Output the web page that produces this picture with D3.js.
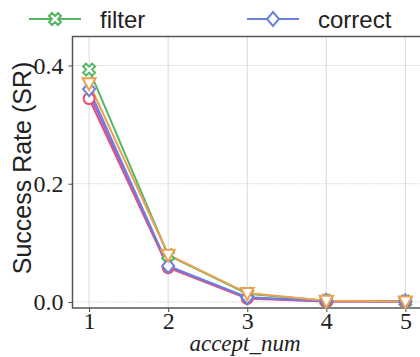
<!DOCTYPE html>
<html>
<head>
<meta charset="utf-8">
<script src="https://cdn.jsdelivr.net/npm/d3@7"></script>
<style>
  body { margin: 0; background: #fff; }
  svg { display: block; }
</style>
</head>
<body>
<div id="chart"></div>
<script>
// data
const acceptNum = [1, 2, 3, 4, 5];
const filterSR  = [0.393, 0.079, 0.014, 0.002, 0.001];
const orangeSR  = [0.370, 0.080, 0.015, 0.002, 0.001];
const correctSR = [0.360, 0.061, 0.008, 0.002, 0.001];
const purpleSR  = [0.352, 0.060, 0.007, 0.001, 0.001];
const redSR     = [0.344, 0.058, 0.006, 0.001, 0.001];
const yTicks = [0.0, 0.2, 0.4];

// listed in drawing order (last on top)
const series = [
    { name: 'filter',  values: filterSR,  color: '#55b764', marker: 'x' },
    { name: 'red',     values: redSR,     color: '#e6506e', marker: 'circle' },
    { name: 'purple',  values: purpleSR,  color: '#a861c8', marker: 'none' },
    { name: 'correct', values: correctSR, color: '#6a7fde', marker: 'diamond' },
    { name: 'orange',  values: orangeSR,  color: '#eea052', marker: 'tri' }
];

const width = 420, height = 357;
const serif = '"Liberation Serif", "DejaVu Serif", serif';
const sans = '"Liberation Sans", Arial, sans-serif';

const svg = d3.select('#chart').append('svg')
    .attr('width', width)
    .attr('height', height);

// plot box
const box = { left: 72.5, top: 36.5, right: 422, bottom: 308 };

const x = d3.scaleLinear().domain([0.79, 5.21]).range([box.left, box.right]);
const y = d3.scaleLinear().domain([-0.0102, 0.449]).range([box.bottom, box.top]);

// grid
const grid = svg.append('g');
grid.selectAll('.vg').data(acceptNum).enter().append('line')
    .attr('x1', d => x(d)).attr('x2', d => x(d))
    .attr('y1', box.top).attr('y2', box.bottom)
    .attr('stroke', '#dadada').attr('stroke-width', 1);
grid.selectAll('.hg').data(yTicks).enter().append('line')
    .attr('x1', box.left).attr('x2', box.right)
    .attr('y1', d => y(d)).attr('y2', d => y(d))
    .attr('stroke', '#dadada').attr('stroke-width', 1)
    .attr('stroke-dasharray', '2,1');

// axes
const xAxis = d3.axisBottom(x).tickValues(acceptNum).tickSize(4).tickFormat(d3.format('d'));
const yAxis = d3.axisLeft(y).tickValues(yTicks).tickSize(4).tickFormat(d3.format('.1f'));

const xg = svg.append('g').attr('transform', `translate(0,${box.bottom})`).call(xAxis);
const yg = svg.append('g').attr('transform', `translate(${box.left},0)`).call(yAxis);
[xg, yg].forEach(g => {
    g.attr('font-family', serif).attr('font-size', 24);
    g.select('.domain').remove();
    g.selectAll('.tick line').attr('stroke', '#444').attr('stroke-width', 1);
    g.selectAll('.tick text').attr('fill', '#222');
});
xg.selectAll('.tick text').attr('y', 21).attr('dy', 0);
yg.selectAll('.tick text').attr('x', -9).attr('dy', '0.33em');

// spines
svg.append('rect')
    .attr('x', box.left).attr('y', box.top)
    .attr('width', box.right - box.left).attr('height', box.bottom - box.top)
    .attr('fill', 'none').attr('stroke', '#555').attr('stroke-width', 1.5);

// lines
const line = d3.line().x((d, i) => x(acceptNum[i])).y(d => y(d));

const plot = svg.append('g');
series.forEach(s => {
    plot.append('path')
        .datum(s.values)
        .attr('d', line)
        .attr('fill', 'none')
        .attr('stroke', s.color)
        .attr('stroke-width', 2);
});

function drawMarker(g, type, color, cx, cy) {
    const m = g.append('g').attr('transform', `translate(${cx},${cy})`);
    if (type === 'circle') {
        m.append('circle').attr('r', 5.5);
    } else if (type === 'diamond') {
        m.append('path').attr('d', 'M0,-7L6,0L0,7L-6,0Z');
    } else if (type === 'tri') {
        m.append('path').attr('d', 'M-6.5,-5L6.5,-5L0,7Z');
    } else if (type === 'x') {
        m.append('path').attr('d', d3.symbol(d3.symbolCross, 90)()).attr('transform', 'rotate(45)');
    }
    m.selectAll('*').attr('fill', '#fff').attr('stroke', color).attr('stroke-width', 2);
}

series.forEach(s => {
    if (s.marker === 'none') return;
    s.values.forEach((v, i) => drawMarker(plot, s.marker, s.color, x(acceptNum[i]), y(v)));
});

// axis labels
svg.append('text')
    .attr('x', 245)
    .attr('y', 351)
    .attr('text-anchor', 'middle')
    .attr('font-family', serif)
    .attr('font-style', 'italic')
    .attr('font-size', 23)
    .attr('fill', '#222')
    .text('accept_num');

svg.append('text')
    .attr('transform', 'translate(31,168) rotate(-90)')
    .attr('text-anchor', 'middle')
    .attr('font-family', sans)
    .attr('font-size', 25)
    .attr('fill', '#222')
    .text('Success Rate (SR)');

// legend (first row)
const legendItems = [
    { s: series[0], lx: 29, tx: 100 },
    { s: series[3], lx: 247, tx: 318 }
];
legendItems.forEach(d => {
    const ly = 19;
    svg.append('line')
        .attr('x1', d.lx).attr('x2', d.lx + 52)
        .attr('y1', ly).attr('y2', ly)
        .attr('stroke', d.s.color).attr('stroke-width', 2);
    drawMarker(svg, d.s.marker, d.s.color, d.lx + 26, ly);
    svg.append('text')
        .attr('x', d.tx).attr('y', 28)
        .attr('font-family', sans)
        .attr('font-size', 24)
        .attr('fill', '#222')
        .text(d.s.name);
});
</script>
</body>
</html>
